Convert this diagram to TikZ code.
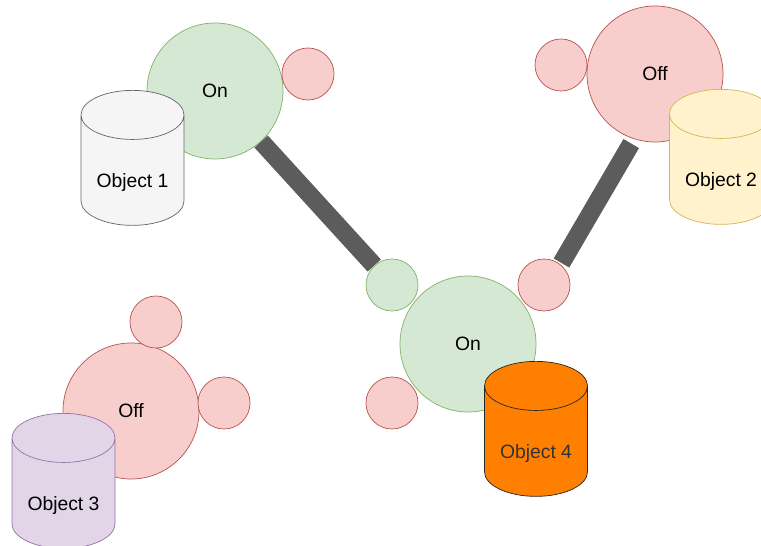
\documentclass[tikz,border=0pt]{standalone}
\usepackage{fontspec}
\setmainfont{Liberation Sans}
\usetikzlibrary{shapes.geometric,backgrounds}
\definecolor{ongreen}{HTML}{D5E8D4}
\definecolor{onedge}{HTML}{82B366}
\definecolor{offred}{HTML}{F8CECC}
\definecolor{offedge}{HTML}{B85450}
\definecolor{dbgrey}{HTML}{F5F5F5}
\definecolor{dbgreyedge}{HTML}{666666}
\definecolor{dbyellow}{HTML}{FFF2CC}
\definecolor{dbyellowedge}{HTML}{D6B656}
\definecolor{dbviolet}{HTML}{E1D5E7}
\definecolor{dbvioletedge}{HTML}{9673A6}
\definecolor{dborange}{HTML}{FF8000}
\definecolor{linkgrey}{HTML}{5C5C5C}
\tikzset{
  sw/.style={circle, inner sep=0pt, minimum size=2.72cm},
  port/.style={circle, inner sep=0pt, minimum size=1.04cm},
  onsw/.style={sw, draw=onedge, fill=ongreen},
  offsw/.style={sw, draw=offedge, fill=offred},
  onport/.style={port, draw=onedge, fill=ongreen},
  offport/.style={port, draw=offedge, fill=offred},
  db/.style={cylinder, shape border rotate=90, aspect=0.65, minimum width=2.06cm, minimum height=2.7cm,
    inner sep=1pt, text height=18pt, text depth=2.5pt},
  link/.style={draw=linkgrey, line width=0.36cm},
}

\begin{document}
\begin{tikzpicture}[font=\fontsize{11}{13}\selectfont]
  \useasboundingbox (0,0) rectangle (15.22,10.92);
  % switches
  \node[onsw] (sw1) at (4.30,9.10) {On};
  \node[offport] (p1) at (6.16,9.44) {};
  \node[offsw] (sw2) at (13.10,9.44) {Off};
  \node[offport] (p2) at (11.22,9.62) {};
  \node[offsw] (sw3) at (2.62,2.70) {Off};
  \node[offport] (p3a) at (3.12,4.48) {};
  \node[offport] (p3b) at (4.48,2.86) {};
  \node[onsw] (sw4) at (9.36,4.04) {On};
  \node[onport] (p4a) at (7.84,5.22) {};
  \node[offport] (p4b) at (10.88,5.22) {};
  \node[offport] (p4c) at (7.84,2.86) {};
  % objects
  \node[db, draw=dbgreyedge, fill=dbgrey] (obj1) at (2.65,7.45) {Object 1};
  \node[db, draw=dbyellowedge, fill=dbyellow] (obj2) at (14.42,7.47) {Object 2};
  \node[db, draw=dbvioletedge, fill=dbviolet] (obj3) at (1.27,0.99) {Object 3};
  \node[db, draw=black!85, fill=dborange, text=black!80] (obj4) at (10.72,2.03) {Object 4};
  % links
  \begin{scope}[on background layer]
    \draw[link] (sw1) -- (p4a);
    \draw[link, shorten <=3pt, shorten >=1pt] (sw2.-108) -- (p4b.51);
  \end{scope}
\end{tikzpicture}
\end{document}
